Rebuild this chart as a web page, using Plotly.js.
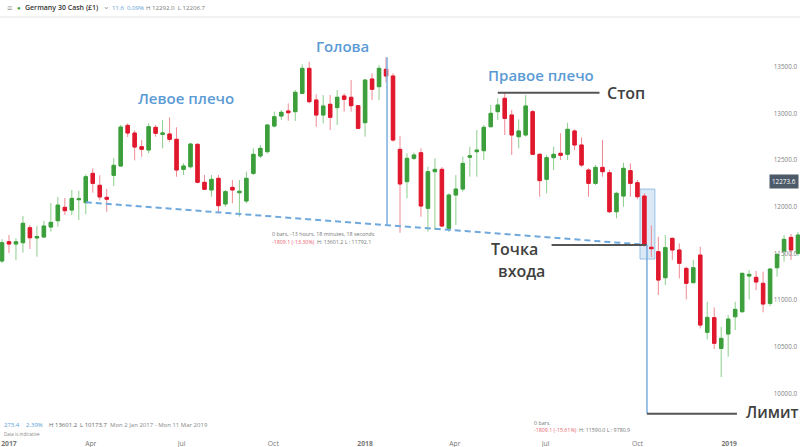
<!DOCTYPE html>
<html>
<head>
<meta charset="utf-8">
<script src="https://cdn.plot.ly/plotly-3.0.1.min.js"></script>
<style>html,body{margin:0;padding:0;background:#fff;}#chart{width:800px;height:447px;}</style>
</head>
<body>
<div id="chart"></div>
<script>
// Weekly candles, Germany 30 Cash, Mon 2 Jan 2017 - Mon 11 Mar 2019
const firstWeek = '2017-01-02';
const openP = [11418,11625,11600,11614,11775,11665,11675,11782,11850,11993,11964,12075,12043,12357,12229,12100,12336,12436,12871,12789,
12643,12607,12850,12775,12779,12722,12400,12428,12668,12261,12179,12304,12029,12207,12150,12061,12357,12543,12589,12864,
12971,13025,13018,13214,13482,13143,12982,13097,13061,13186,13172,13082,12900,13368,13286,13472,13400,12614,12268,12518,
12578,11982,12375,12400,11768,12125,12189,12530,12589,12600,12857,13018,13161,12982,12750,12768,13018,12561,12293,12525,
12572,12561,12811,12661,12393,12250,12421,12364,11946,12114,12386,12257,12114,11565,11518,11239,11661,11536,11339,11186,
11482,10654,10811,10482,10636,10821,10875,11257,11243,11179,10964,11346,11525,11671,11500];
const highP = [11653,11696,11664,11900,11804,11793,11846,12039,12104,12093,12179,12171,12346,12411,12336,12190,12521,12875,12893,12818,
12714,12893,12875,12929,12957,12850,12465,12685,12679,12339,12339,12339,12179,12286,12286,12375,12625,12661,12880,13018,
13036,13107,13250,13525,13553,13204,13196,13196,13250,13214,13357,13089,13364,13429,13518,13601,13429,12757,12572,12580,
12625,12428,12518,12425,12143,12339,12536,12643,12821,12875,13089,13161,13221,13036,12936,13196,13036,12572,12554,12643,
12786,12900,12829,12743,12411,12446,12714,12393,12161,12471,12464,12286,12143,11800,11679,11696,11668,11607,11357,11429,
11571,10982,10921,10714,10839,10982,11293,11321,11311,11304,11340,11500,11696,11707,11729];
const lowP = [11396,11503,11428,11507,11546,11464,11668,11732,11786,11911,11911,11857,11918,12150,12068,11946,12221,12425,12746,12496,
12536,12572,12750,12625,12696,12321,12339,12411,12250,12179,12107,11929,12000,12036,11893,12036,12339,12521,12571,12850,
12929,12921,12918,13207,13107,12857,12893,12821,12875,13018,13018,12829,12750,13143,13143,13330,12696,11720,12090,12500,
11893,11732,11750,11780,11730,11804,12161,12321,12321,12500,12850,12929,12768,12554,12625,12750,12554,12107,12143,12393,
12500,12500,12607,12428,12107,12232,12321,11932,11875,12000,12107,12079,11571,11460,11054,11161,11429,11232,11007,11179,
10696,10579,10475,10174,10393,10679,10864,11007,11107,10868,10936,11250,11411,11429,11471];
const closeP = [11614,11600,11624,11822,11667,11680,11793,11832,12017,11957,12089,12085,12321,12250,12104,12080,12443,12853,12789,12639,
12614,12857,12786,12790,12722,12393,12436,12671,12261,12186,12293,12011,12161,12179,12165,12304,12561,12625,12875,12964,
13011,13007,13225,13482,13125,12982,13079,12957,13172,13150,13082,12839,13357,13257,13482,13400,12714,12243,12518,12554,
12007,12375,12400,11793,12125,12189,12464,12545,12607,12850,13000,13089,12946,12768,12811,13079,12561,12279,12525,12561,
12550,12829,12661,12446,12250,12421,12375,11946,12143,12411,12250,12107,11589,11550,11214,11561,11536,11393,11179,11346,
10732,10814,10536,10589,10796,10900,11286,11275,11193,10957,11332,11489,11650,11536,11696];

const yTicks = [10000,10500,11000,11500,12000,12500,13000,13500];
const xTickVals = ['2017-01-09','2017-04-01','2017-07-01','2017-10-01','2018-01-01','2018-04-01','2018-07-01','2018-10-01','2019-01-01'];
const xTickText = ['<b>2017</b>','Apr','Jul','Oct','<b>2018</b>','Apr','Jul','Oct','<b>2019</b>'];

// levels
const stopLevel = 13221, entryLevel = 11590.0, limitLevel = 9780.9;
const headHigh = 13601.2, headLow = 11792.1;
const neck = {x0:'2017-03-27', y0:12047, x1:'2018-10-08', y1:11593};
const currentPrice = 12273.6;

// weekly dates
const dates = [];
{
  const d0 = new Date(firstWeek + 'T00:00:00Z');
  for (let i = 0; i < openP.length; i++) {
    const d = new Date(d0.getTime() + i * 7 * 86400000);
    dates.push(d.toISOString().slice(0,10));
  }
}
const bodyHigh = openP.map((o,i)=>Math.max(o, closeP[i]));
const bodyLow = openP.map((o,i)=>Math.min(o, closeP[i]));

const GREEN = '#3c9f3c', RED = '#e0182d';
const traces = [
  {type:'candlestick', x:dates, open:openP, high:highP, low:lowP, close:closeP,
   increasing:{line:{color:'#8ccf8c', width:1}, fillcolor:GREEN},
   decreasing:{line:{color:'#f08a94', width:1}, fillcolor:RED},
   whiskerwidth:0, hoverinfo:'skip', showlegend:false},
  {type:'candlestick', x:dates, open:openP, high:bodyHigh, low:bodyLow, close:closeP,
   increasing:{line:{color:GREEN, width:1}, fillcolor:GREEN},
   decreasing:{line:{color:RED, width:1}, fillcolor:RED},
   whiskerwidth:0, hoverinfo:'skip', showlegend:false}
];

const T = 20, B = 430, H = B - T;
const px = X => X / 800;
const py = Y => (B - Y) / H;
const BLUE = '#5b9bd5', DARK = '#404040';
const ff = '"Open Sans", "Noto Sans", sans-serif';

function txt(text, X, Y, size, color, anchor, weight, extra) {
  return Object.assign({text:text, xref:'paper', yref:'paper', x:px(X), y:py(Y), xanchor:anchor||'left', yanchor:'middle',
    showarrow:false, font:{family:ff, size:size, color:color, weight:weight||400}}, extra||{});
}

const annotations = [
  // header
  txt('≡', 5, 8, 9, '#9a9a9a'),
  txt('●', 15, 8, 6, GREEN),
  txt('Germany 30 Cash (£1)', 23, 8, 7, '#333', 'left', 600),
  txt('⌄', 101, 6, 8, '#999'),
  txt('11.6', 110, 8, 6.1, BLUE),
  txt('0.09%', 125, 8, 6.1, BLUE),
  txt('H 12292.0  L 12206.7', 144, 8, 6.1, '#777'),
  // bottom stats
  txt('273.4', 2, 425, 6, BLUE),
  txt('2.39%', 24, 425, 6, BLUE),
  txt('H 13601.2', 47, 425, 6, '#666'),
  txt('L 10173.7', 78, 425, 6, '#666'),
  txt('Mon 2 Jan 2017 - Mon 11 Mar 2019', 108, 425, 6, '#888'),
  txt('Data is indicative', 2, 433.5, 4.5, '#888'),
  // pattern labels
  txt('Левое плечо', 186, 98, 15, BLUE, 'center', 600),
  txt('Голова', 342, 46, 15, BLUE, 'center', 600),
  txt('Правое плечо', 541, 75, 15, BLUE, 'center', 600),
  txt('Стоп', 605, 93, 16, DARK, 'left', 600),
  txt('Точка', 514, 249, 16, DARK, 'center', 600),
  txt('входа', 521, 271, 16, DARK, 'center', 600),
  txt('Лимит', 744, 412, 15.5, DARK, 'left', 600),
  // measurement texts
  txt('0 bars, -13 hours, 18 minutes, 18 seconds', 270, 234, 5.3, '#777'),
  txt('<span style="color:#e8636f">-1809.1 (-13.30%)</span>  H: 13601.2 L : 11792.1', 270, 242, 5.3, '#777'),
  txt('0 bars.', 532, 423, 5.3, '#777'),
  txt('<span style="color:#e8636f">-1809.1 (-15.61%)</span>  H: 11590.0 L : 9780.9', 532, 430, 5.3, '#777'),
  // current price
  {text:String(currentPrice.toFixed(1)), xref:'paper', yref:'y', x:0.999, y:currentPrice, xanchor:'right', yanchor:'middle',
   showarrow:false, bgcolor:'#4d5a6a', borderpad:2, font:{family:ff, size:6.3, color:'#ffffff'}}
];

const shapes = [
  {type:'line', xref:'paper', yref:'paper', x0:0, x1:1, y0:py(17), y1:py(17), line:{color:'#e3e3e3', width:1}},
  // highlight box
  {type:'rect', xref:'x', yref:'y', x0:'2018-10-03 14:00', x1:'2018-10-18 14:00', y0:11439, y1:12189,
   fillcolor:'rgba(91,155,213,0.22)', line:{color:'rgba(91,155,213,0.55)', width:1}, layer:'below'},
  // neckline
  {type:'line', xref:'x', yref:'y', x0:neck.x0, y0:neck.y0, x1:neck.x1, y1:neck.y1, line:{color:'#6fa8dc', width:2, dash:'6px,4px'}},
  // head measuring line
  {type:'line', xref:'x', yref:'y', x0:'2018-01-23', x1:'2018-01-23', y0:headHigh, y1:headLow, line:{color:'#79ade0', width:1.5}},
  // stop
  {type:'line', xref:'x', yref:'y', x0:'2018-05-14', x1:'2018-08-24', y0:stopLevel, y1:stopLevel, line:{color:'#555', width:2}},
  // entry
  {type:'line', xref:'x', yref:'y', x0:'2018-07-07', x1:'2018-10-10 14:00', y0:entryLevel, y1:entryLevel, line:{color:'#555', width:2}},
  // limit measuring vertical
  {type:'line', xref:'x', yref:'y', x0:'2018-10-10 14:00', x1:'2018-10-10 14:00', y0:entryLevel, y1:limitLevel, line:{color:'#79ade0', width:1.5}},
  // limit
  {type:'line', xref:'x', yref:'y', x0:'2018-10-10 14:00', x1:'2019-01-08 19:00', y0:limitLevel, y1:limitLevel, line:{color:'#555', width:2}}
];

const layout = {
  width:800, height:447,
  margin:{l:0, r:0, t:T, b:447-B, pad:0},
  paper_bgcolor:'#ffffff', plot_bgcolor:'#ffffff',
  showlegend:false,
  font:{family:ff},
  xaxis:{type:'date', range:['2016-12-31','2019-03-13'], rangeslider:{visible:false},
    tickmode:'array', tickvals:xTickVals, ticktext:xTickText,
    tickfont:{size:6.8, color:'#777', family:ff}, showgrid:false, zeroline:false, showline:false, ticks:'', ticklabelstandoff:8},
  yaxis:{range:[9607.6, 14000], side:'right', ticklabelposition:'inside', tickmode:'array', tickvals:yTicks,
    tickformat:'.1f', tickfont:{size:6.3, color:'#7f7f7f', family:ff}, showgrid:false, zeroline:false, showline:false, ticks:''},
  annotations:annotations,
  shapes:shapes
};

Plotly.newPlot('chart', traces, layout, {displayModeBar:false, staticPlot:true});
</script>
</body>
</html>
